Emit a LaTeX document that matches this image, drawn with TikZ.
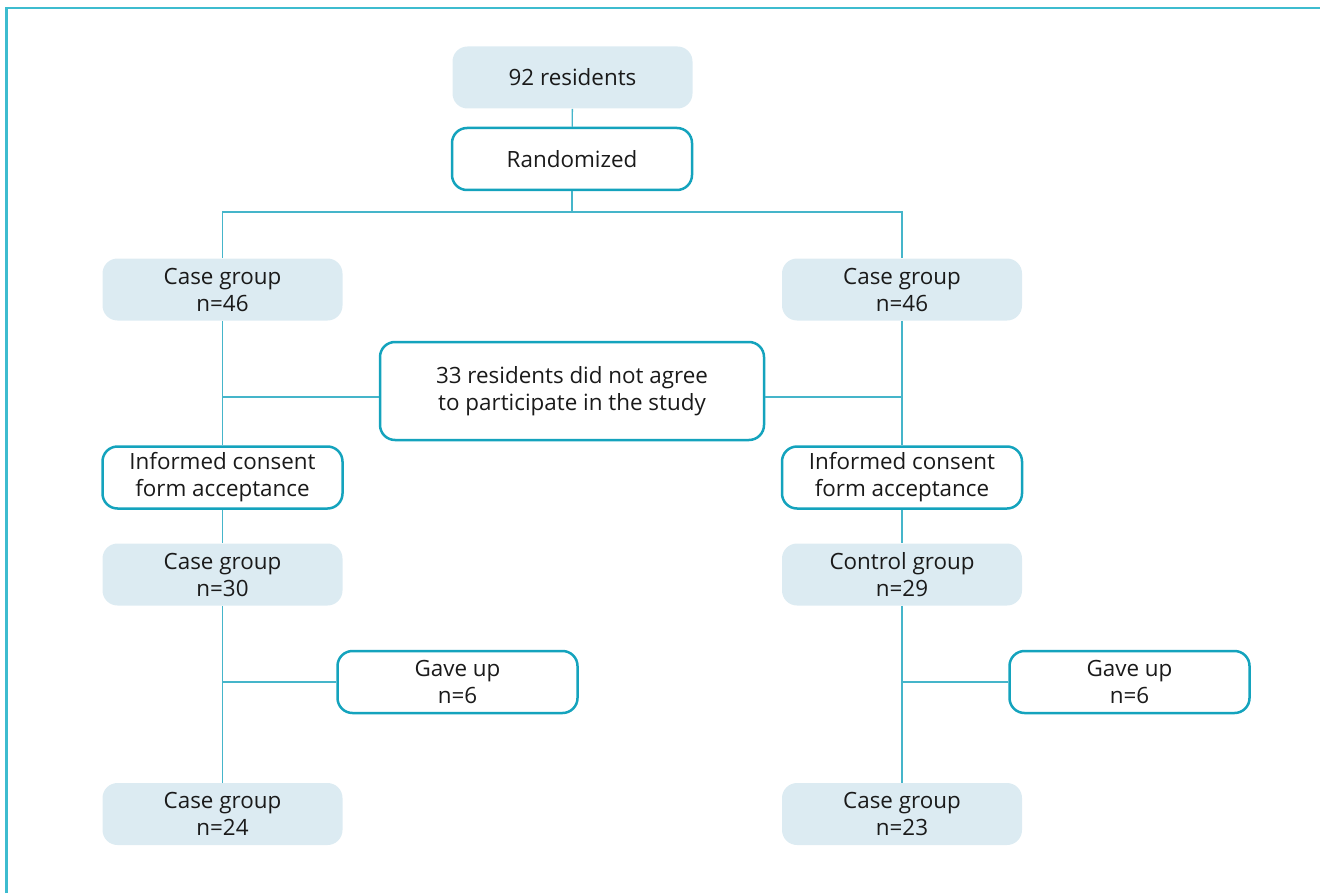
\documentclass[tikz,border=0pt]{standalone}
\usepackage{fontspec}
\setmainfont{Open Sans}
\definecolor{fillb}{HTML}{DCEBF2}
\definecolor{boxline}{HTML}{14A3BD}
\definecolor{linec}{HTML}{45B5CA}
\definecolor{framec}{HTML}{3DBCCF}
\definecolor{txt}{HTML}{1A1A1A}
\begin{document}
\begin{tikzpicture}[x=0.5pt,y=-0.5pt,
  base/.style={rounded corners=7.5pt, minimum width=120pt, minimum height=31pt, inner sep=0pt, align=center, text=txt, font=\fontsize{11.2}{13.5}\selectfont},
  filled/.style={base, fill=fillb},
  outl/.style={base, draw=boxline, line width=1.25pt, fill=white},
  conn/.style={draw=linec, line width=0.7pt},
  frame/.style={draw=framec, line width=1.2pt}]
\useasboundingbox (0,0) rectangle (1320,893);
\draw[frame] (6.5,893) -- (6.5,8) -- (1320,8);

\node[filled] (n92) at (572.5,77.5) {92 residents};
\node[outl] (rand) at (572,159) {Randomized};
\node[filled] (lc46) at (222.5,289.5) {Case group\\n=46};
\node[filled] (rc46) at (902,289.5) {Case group\\n=46};
\node[outl, minimum width=192pt, minimum height=49pt] (refuse) at (572,391) {33 residents did not agree\\to participate in the study};
\node[outl] (lic) at (222.5,477.5) {Informed consent\\form acceptance};
\node[outl] (ric) at (902,477.5) {Informed consent\\form acceptance};
\node[filled] (lc30) at (222.5,574.5) {Case group\\n=30};
\node[filled] (rc29) at (902,574.5) {Control group\\n=29};
\node[outl] (lgu) at (457.5,682) {Gave up\\n=6};
\node[outl] (rgu) at (1129.5,682) {Gave up\\n=6};
\node[filled] (lc24) at (222.5,814) {Case group\\n=24};
\node[filled] (rc23) at (902,814) {Case group\\n=23};

\coordinate (sp) at (572,212);
\draw[conn] (n92) -- (rand);
\draw[conn] (rand) -- (sp);
\draw[conn] (lc46.north) |- (sp) -| (rc46.north);
\draw[conn] (lc46) -- (lic);
\draw[conn] (rc46) -- (ric);
\draw[conn] ([yshift=-3pt]refuse.west) -- ([yshift=-3pt]refuse.west -| lc46);
\draw[conn] ([yshift=-3pt]refuse.east) -- ([yshift=-3pt]refuse.east -| rc46);
\draw[conn] (lic) -- (lc30);
\draw[conn] (ric) -- (rc29);
\draw[conn] (lc30) -- (lc24);
\draw[conn] (rc29) -- (rc23);
\draw[conn] (lgu.west) -- (lgu.west -| lc30);
\draw[conn] (rgu.west) -- (rgu.west -| rc29);
\end{tikzpicture}
\end{document}
